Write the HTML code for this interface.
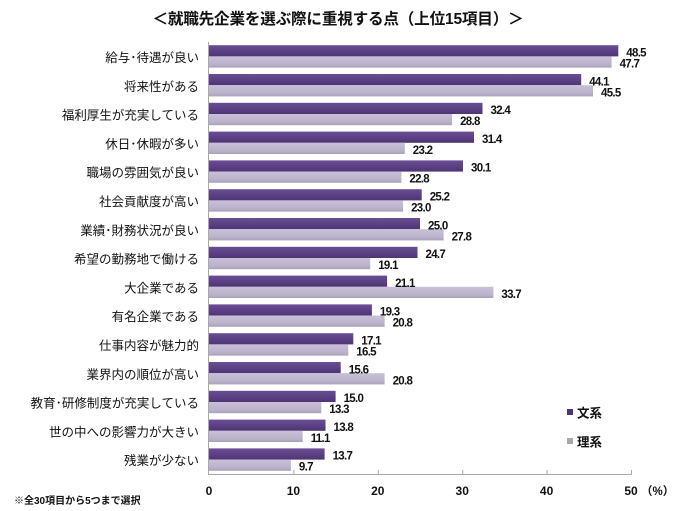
<!DOCTYPE html>
<html><head><meta charset="utf-8"><style>
html,body{margin:0;padding:0;background:#fff;}
svg{display:block;}
.cl{font-family:"Liberation Sans","Noto Sans CJK JP",sans-serif;font-size:12.5px;fill:#111;text-anchor:end;}
.v{font-family:"Liberation Sans",sans-serif;font-size:11.5px;font-weight:bold;fill:#111;letter-spacing:-0.7px;}
.t{font-family:"Liberation Sans",sans-serif;font-size:12px;font-weight:bold;fill:#111;text-anchor:middle;}
</style></head><body>
<svg width="678" height="511" viewBox="0 0 678 511" xmlns="http://www.w3.org/2000/svg">
<defs>
<linearGradient id="gd" x1="0" y1="0" x2="0" y2="1"><stop offset="0" stop-color="#6a4d92"/><stop offset="0.6" stop-color="#5a3e82"/><stop offset="1" stop-color="#4e3474"/></linearGradient>
<linearGradient id="gl" x1="0" y1="0" x2="0" y2="1"><stop offset="0" stop-color="#c9c1d7"/><stop offset="0.7" stop-color="#bbb2cb"/><stop offset="1" stop-color="#a9a0bb"/></linearGradient>
</defs>
<text x="338" y="24" text-anchor="middle" style="font-family:'Liberation Sans','Noto Sans CJK JP',sans-serif;font-size:15.6px;font-weight:bold;fill:#111;letter-spacing:-0.2px">＜就職先企業を選ぶ際に重視する点（上位15項目）＞</text>

<g fill="url(#gd)">
<rect x="209" y="45.2" width="409.3" height="11.2"/>
<rect x="209" y="74.0" width="372.2" height="11.2"/>
<rect x="209" y="102.8" width="273.5" height="11.2"/>
<rect x="209" y="131.6" width="265.0" height="11.2"/>
<rect x="209" y="160.4" width="254.0" height="11.2"/>
<rect x="209" y="189.2" width="212.7" height="11.2"/>
<rect x="209" y="218.0" width="211.0" height="11.2"/>
<rect x="209" y="246.8" width="208.5" height="11.2"/>
<rect x="209" y="275.6" width="178.1" height="11.2"/>
<rect x="209" y="304.4" width="162.9" height="11.2"/>
<rect x="209" y="333.2" width="144.3" height="11.2"/>
<rect x="209" y="362.0" width="131.7" height="11.2"/>
<rect x="209" y="390.8" width="126.6" height="11.2"/>
<rect x="209" y="419.6" width="116.5" height="11.2"/>
<rect x="209" y="448.4" width="115.6" height="11.2"/>
</g>
<g fill="url(#gl)">
<rect x="209" y="56.4" width="402.6" height="11.2"/>
<rect x="209" y="85.2" width="384.0" height="11.2"/>
<rect x="209" y="114.0" width="243.1" height="11.2"/>
<rect x="209" y="142.8" width="195.8" height="11.2"/>
<rect x="209" y="171.6" width="192.4" height="11.2"/>
<rect x="209" y="200.4" width="194.1" height="11.2"/>
<rect x="209" y="229.2" width="234.6" height="11.2"/>
<rect x="209" y="258.0" width="161.2" height="11.2"/>
<rect x="209" y="286.8" width="284.4" height="11.2"/>
<rect x="209" y="315.6" width="175.6" height="11.2"/>
<rect x="209" y="344.4" width="139.3" height="11.2"/>
<rect x="209" y="373.2" width="175.6" height="11.2"/>
<rect x="209" y="402.0" width="112.3" height="11.2"/>
<rect x="209" y="430.8" width="93.7" height="11.2"/>
<rect x="209" y="459.6" width="81.9" height="11.2"/>
</g>

<!-- axes -->
<g stroke="#a8a8a8" stroke-width="1" fill="none">
<line x1="208.5" y1="42" x2="208.5" y2="474.5"/>
<line x1="208" y1="474.5" x2="631.5" y2="474.5"/>
<line x1="293.9" y1="470" x2="293.9" y2="474.5"/>
<line x1="378.3" y1="470" x2="378.3" y2="474.5"/>
<line x1="462.7" y1="470" x2="462.7" y2="474.5"/>
<line x1="547.1" y1="470" x2="547.1" y2="474.5"/>
<line x1="631.5" y1="470" x2="631.5" y2="474.5"/>
</g>

<!-- category labels -->
<text class="cl" x="199" y="62">給与･待遇が良い</text>
<text class="cl" x="199" y="90.8">将来性がある</text>
<text class="cl" x="199" y="119.6">福利厚生が充実している</text>
<text class="cl" x="199" y="148.4">休日･休暇が多い</text>
<text class="cl" x="199" y="177.2">職場の雰囲気が良い</text>
<text class="cl" x="199" y="206">社会貢献度が高い</text>
<text class="cl" x="199" y="234.8">業績･財務状況が良い</text>
<text class="cl" x="199" y="263.6">希望の勤務地で働ける</text>
<text class="cl" x="199" y="292.4">大企業である</text>
<text class="cl" x="199" y="321.2">有名企業である</text>
<text class="cl" x="199" y="350">仕事内容が魅力的</text>
<text class="cl" x="199" y="378.8">業界内の順位が高い</text>
<text class="cl" x="199" y="407.6">教育･研修制度が充実している</text>
<text class="cl" x="199" y="436.4">世の中への影響力が大きい</text>
<text class="cl" x="199" y="465.2">残業が少ない</text>

<!-- value labels -->
<text class="v" x="626.3" y="56.5">48.5</text>
<text class="v" x="619.6" y="67.5">47.7</text>
<text class="v" x="589.2" y="85.3">44.1</text>
<text class="v" x="601.0" y="96.3">45.5</text>
<text class="v" x="490.5" y="114.1">32.4</text>
<text class="v" x="460.1" y="125.1">28.8</text>
<text class="v" x="482.0" y="142.9">31.4</text>
<text class="v" x="412.8" y="153.9">23.2</text>
<text class="v" x="471.0" y="171.7">30.1</text>
<text class="v" x="409.4" y="182.7">22.8</text>
<text class="v" x="429.7" y="200.5">25.2</text>
<text class="v" x="411.1" y="211.5">23.0</text>
<text class="v" x="428.0" y="229.3">25.0</text>
<text class="v" x="451.6" y="240.3">27.8</text>
<text class="v" x="425.5" y="258.1">24.7</text>
<text class="v" x="378.2" y="269.1">19.1</text>
<text class="v" x="395.1" y="286.9">21.1</text>
<text class="v" x="501.4" y="297.9">33.7</text>
<text class="v" x="379.9" y="315.7">19.3</text>
<text class="v" x="392.6" y="326.7">20.8</text>
<text class="v" x="361.3" y="344.5">17.1</text>
<text class="v" x="356.3" y="355.5">16.5</text>
<text class="v" x="348.7" y="373.3">15.6</text>
<text class="v" x="392.6" y="384.3">20.8</text>
<text class="v" x="343.6" y="402.1">15.0</text>
<text class="v" x="329.3" y="413.1">13.3</text>
<text class="v" x="333.5" y="430.9">13.8</text>
<text class="v" x="310.7" y="441.9">11.1</text>
<text class="v" x="332.6" y="459.7">13.7</text>
<text class="v" x="298.9" y="470.7">9.7</text>

<!-- ticks -->
<text class="t" x="209" y="495">0</text>
<text class="t" x="293.4" y="495">10</text>
<text class="t" x="377.8" y="495">20</text>
<text class="t" x="462.2" y="495">30</text>
<text class="t" x="546.6" y="495">40</text>
<text class="t" x="631" y="495">50</text>
<text x="641" y="495" style="font-family:'Liberation Sans','Noto Sans CJK JP',sans-serif;font-size:11.5px;font-weight:bold;fill:#111">（%）</text>

<!-- legend -->
<rect x="567" y="409" width="6" height="6" fill="#4e3474"/>
<text x="577" y="417.5" style="font-family:'Liberation Sans','Noto Sans CJK JP',sans-serif;font-size:12.5px;font-weight:bold;fill:#111">文系</text>
<rect x="567" y="438" width="6" height="6" fill="#a9a9a9"/>
<text x="577" y="446.5" style="font-family:'Liberation Sans','Noto Sans CJK JP',sans-serif;font-size:12.5px;font-weight:bold;fill:#111">理系</text>

<!-- footnote -->
<text x="14" y="504" style="font-family:'Liberation Sans','Noto Sans CJK JP',sans-serif;font-size:10px;font-weight:bold;fill:#111">※全30項目から5つまで選択</text>
</svg>
</body></html>
